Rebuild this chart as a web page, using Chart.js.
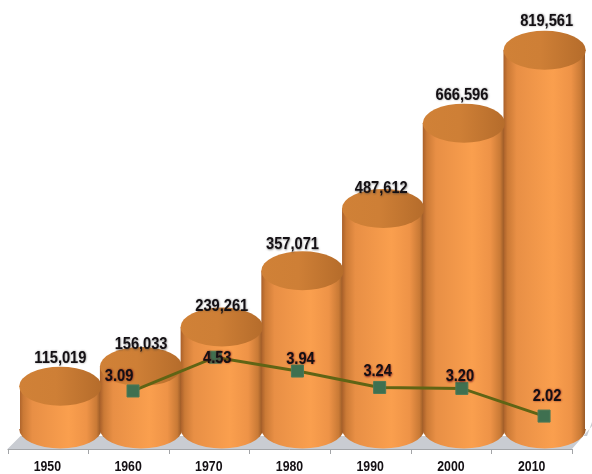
<!DOCTYPE html>
<html><head><meta charset="utf-8">
<style>html,body{margin:0;padding:0;background:#fff}canvas{display:block}</style>
<script src="https://cdn.jsdelivr.net/npm/chart.js@4"></script>
</head><body><canvas id="c" width="592" height="474"></canvas>
<script>
const years = ['1950','1960','1970','1980','1990','2000','2010'];
const population = [115019,156033,239261,357071,487612,666596,819561];
const growthYears = [1960,1970,1980,1990,2000,2010];
const growthRates = [3.09,4.53,3.94,3.24,3.20,2.02];
const growthLabels = ['3.09','4.53','3.94','3.24','3.20','2.02'];
const fmt = n => n.toLocaleString('en-US');
const FONT = '"Liberation Sans",Arial,sans-serif';
const RY = 19.5;

function sideGrad(ctx,x0,x1){
  const g = ctx.createLinearGradient(x0,0,x1,0);
  g.addColorStop(0,'#A9602A'); g.addColorStop(0.05,'#CB7A36'); g.addColorStop(0.16,'#E88F45');
  g.addColorStop(0.6,'#FA9F4E'); g.addColorStop(0.82,'#EE9347'); g.addColorStop(0.94,'#C97A36'); g.addColorStop(1,'#8E5223');
  return g;
}
function topGrad(ctx,x0,x1){
  const g = ctx.createLinearGradient(x0,0,x1,0);
  g.addColorStop(0,'#D08137'); g.addColorStop(0.45,'#CE7F36'); g.addColorStop(1,'#B56C2B');
  return g;
}
function narrowText(ctx,t,x,y,font,shadow,sx){
  ctx.save();
  ctx.translate(x,y); ctx.scale(sx,1);
  ctx.font = font; ctx.textAlign='center'; ctx.textBaseline='middle';
  if(shadow){ctx.shadowColor = shadow; ctx.shadowBlur = 2; ctx.shadowOffsetX = 0.5; ctx.shadowOffsetY = 0.5;}
  ctx.fillStyle = '#141014'; ctx.fillText(t,0,0);
  ctx.restore();
}
const cylinder = {
  id:'cylinder',
  beforeDatasetsDraw(chart){
    const {ctx,chartArea:a,scales:{x}} = chart;
    const step = x.getPixelForValue(1)-x.getPixelForValue(0);
    const L = x.getPixelForValue(0)-step/2-12.5, R = x.getPixelForValue(6)+step/2-13;
    ctx.save();
    ctx.fillStyle='#C9CCD2';
    ctx.beginPath(); ctx.moveTo(L,a.bottom); ctx.lineTo(L+13,a.bottom-13); ctx.lineTo(a.right+2,a.bottom-13);
    ctx.lineTo(592,a.bottom-27); ctx.lineTo(592,a.bottom-23); ctx.lineTo(R,a.bottom); ctx.closePath(); ctx.fill();
    ctx.strokeStyle='#A3A5A8'; ctx.lineWidth=1;
    ctx.beginPath(); ctx.moveTo(L,a.bottom+.5); ctx.lineTo(R,a.bottom+.5);
    for(let i=0;i<=7;i++){const t=Math.round(L+i*(R-L)/7)+.5; ctx.moveTo(t,a.bottom); ctx.lineTo(t,a.bottom+5);}
    ctx.stroke();
    ctx.restore();
    years.forEach((yr,i)=>narrowText(ctx,x.getLabelForValue(i),x.getPixelForValue(i)-13,a.bottom+18,'bold 15px '+FONT,null,0.82));
  },
  afterDatasetDraw(chart,args){
    if(args.index!==0) return;
    const ctx = chart.ctx;
    const shift = [[0,-28],[0,-22],[0,-21],[-10,-26],[-2,-20],[-2,-28],[2,-29]];
    args.meta.data.forEach((b,i)=>{
      const w=b.width, x0=b.x-w/2, x1=b.x+w/2;
      ctx.save();
      ctx.fillStyle = sideGrad(ctx,x0,x1);
      ctx.beginPath(); ctx.ellipse(b.x,b.base,w/2,RY,0,0,Math.PI); ctx.fill();
      ctx.fillStyle = topGrad(ctx,x0,x1);
      ctx.beginPath(); ctx.ellipse(b.x,b.y,w/2,RY,0,0,Math.PI*2); ctx.fill();
      ctx.restore();
      narrowText(ctx,fmt(population[i]),b.x+shift[i][0],b.y+shift[i][1],'bold 17px '+FONT,'rgba(60,60,60,.6)',0.86);
    });
  },
  afterDatasetsDraw(chart){
    const ctx = chart.ctx, meta = chart.getDatasetMeta(1);
    const shift = [[-14,-15],[2,1],[3,-12],[-2,-16],[-2,-12],[3,-20]];
    meta.data.forEach((p,i)=>{
      narrowText(ctx,growthLabels[i],p.x+shift[i][0],p.y+shift[i][1],'bold 17px '+FONT,'rgba(110,10,20,.85)',0.86);
    });
  }
};
new Chart(document.getElementById('c'),{
  data:{
    labels:years,
    datasets:[
      {type:'bar',order:2,data:population,base:25100,xAxisID:'x',yAxisID:'y',grouped:false,
       barPercentage:1.02,categoryPercentage:1,borderWidth:0,
       backgroundColor(c){
         const x=c.chart.scales.x;
         if(!x || !Number.isInteger(c.dataIndex)) return '#F59A4B';
         const cx=x.getPixelForValue(c.dataIndex), hw=(x.getPixelForValue(1)-x.getPixelForValue(0))*0.51;
         if(!Number.isFinite(cx) || !Number.isFinite(hw)) return '#F59A4B';
         return sideGrad(c.chart.ctx,cx-hw,cx+hw);
       }},
      {type:'line',order:1,data:growthYears.map((yr,i)=>({x:yr,y:growthRates[i]})),
       xAxisID:'xLine',yAxisID:'yLine',borderColor:'#5F6415',borderWidth:3,tension:0,
       pointStyle:'rect',pointRadius:8.5,pointBackgroundColor:'#3F7050',pointBorderColor:'#4C7A58',pointBorderWidth:1}
    ]
  },
  options:{
    responsive:false,animation:false,
    layout:{autoPadding:false,padding:{left:20,right:7,top:20,bottom:17}},
    plugins:{legend:{display:false},tooltip:{enabled:false}},
    scales:{
      x:{type:'category',offset:true,grid:{display:false},border:{display:false},ticks:{display:false}},
      xLine:{type:'linear',display:false,min:1946.25,max:2014.98},
      y:{display:false,min:-16736,max:882845},
      yLine:{display:false,min:0.617,max:18.9}
    }
  },
  plugins:[cylinder]
});
</script></body></html>
